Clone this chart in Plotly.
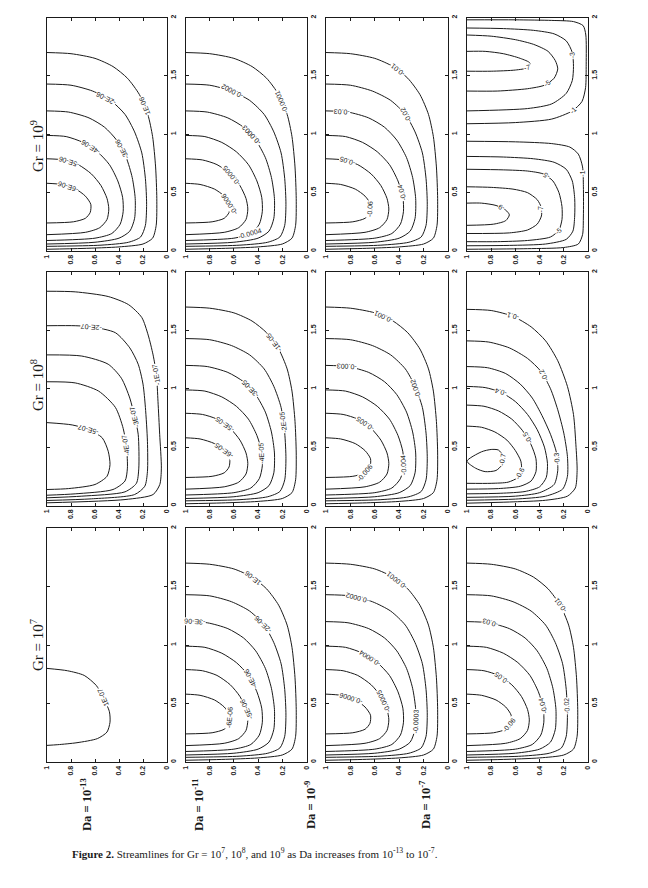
import math
import plotly.graph_objects as go

# ---------------- text ----------------
row_titles = ["Gr = 10<sup>9</sup>", "Gr = 10<sup>8</sup>", "Gr = 10<sup>7</sup>"]
col_titles = ["Da = 10<sup>-13</sup>", "Da = 10<sup>-11</sup>", "Da = 10<sup>-9</sup>", "Da = 10<sup>-7</sup>"]
caption = ("<b>Figure 2.</b> Streamlines for Gr = 10<sup>7</sup>, 10<sup>8</sup>, and 10<sup>9</sup> "
           "as Da increases from 10<sup>-13</sup> to 10<sup>-7</sup>.")

h_ticks = [1, 0.8, 0.6, 0.4, 0.2, 0]
h_ticktext = ["1", "0.8", "0.6", "0.4", "0.2", "0"]
v_ticks = [0, 0.5, 1, 1.5, 2]
v_ticktext = ["0", "0.5", "1", "1.5", "2"]

# ---------------- streamlines ----------------
# each streamline: list of (h, v) with h = horizontal axis value (1 at left), v = vertical axis value (0..2)
cell_common = [
    [(1, 1.70), (0.8, 1.69), (0.6, 1.65), (0.45, 1.58), (0.33, 1.48), (0.23, 1.34), (0.16, 1.17), (0.12, 0.98),
     (0.095, 0.72), (0.085, 0.45), (0.09, 0.22), (0.12, 0.11), (0.2, 0.06), (0.4, 0.035), (0.7, 0.022), (1, 0.015)],
    [(1, 1.43), (0.8, 1.42), (0.62, 1.37), (0.47, 1.29), (0.35, 1.17), (0.27, 1.02), (0.21, 0.84), (0.18, 0.62),
     (0.17, 0.40), (0.18, 0.22), (0.22, 0.12), (0.32, 0.075), (0.55, 0.05), (1, 0.04)],
    [(1, 1.20), (0.82, 1.19), (0.65, 1.14), (0.52, 1.06), (0.42, 0.95), (0.34, 0.80), (0.29, 0.63), (0.265, 0.45),
     (0.27, 0.28), (0.31, 0.17), (0.4, 0.11), (0.6, 0.075), (1, 0.06)],
    [(1, 0.99), (0.84, 0.98), (0.7, 0.93), (0.58, 0.85), (0.48, 0.74), (0.41, 0.60), (0.37, 0.46), (0.365, 0.34),
     (0.39, 0.23), (0.46, 0.15), (0.6, 0.11), (1, 0.09)],
    [(1, 0.79), (0.86, 0.78), (0.74, 0.74), (0.63, 0.66), (0.55, 0.56), (0.5, 0.45), (0.485, 0.36), (0.5, 0.27),
     (0.56, 0.2), (0.68, 0.16), (1, 0.14)],
    [(1, 0.58), (0.88, 0.57), (0.76, 0.53), (0.68, 0.47), (0.635, 0.40), (0.64, 0.33), (0.68, 0.28), (0.78, 0.25),
     (1, 0.24)],
]

cell_gr8_da13 = [
    [(1, 1.835), (0.765, 1.83), (0.49, 1.79), (0.32, 1.72), (0.21, 1.61), (0.157, 1.46), (0.116, 1.29),
     (0.088, 1.12), (0.075, 0.89), (0.061, 0.61), (0.047, 0.32), (0.06, 0.18), (0.116, 0.094), (0.35, 0.051),
     (1, 0.023)],
    [(1, 1.54), (0.765, 1.54), (0.63, 1.53), (0.43, 1.48), (0.31, 1.35), (0.24, 1.21), (0.20, 1.04), (0.18, 0.84),
     (0.163, 0.55), (0.163, 0.29), (0.185, 0.165), (0.27, 0.094), (0.63, 0.057), (1, 0.043)],
    [(1, 1.29), (0.71, 1.28), (0.49, 1.21), (0.38, 1.09), (0.31, 0.92), (0.27, 0.76), (0.24, 0.61), (0.235, 0.32),
     (0.255, 0.19), (0.35, 0.117), (0.71, 0.08), (1, 0.066)],
    [(1, 1.06), (0.765, 1.05), (0.57, 0.98), (0.43, 0.84), (0.365, 0.66), (0.337, 0.49), (0.33, 0.32),
     (0.35, 0.21), (0.45, 0.137), (0.765, 0.10), (1, 0.088)],
    [(1, 0.71), (0.79, 0.69), (0.655, 0.65), (0.54, 0.58), (0.49, 0.465), (0.475, 0.35), (0.50, 0.25),
     (0.60, 0.18), (0.82, 0.145), (1, 0.137)],
]

cell_gr7_da13 = [
    [(1, 0.80), (0.83, 0.78), (0.69, 0.74), (0.59, 0.655), (0.54, 0.57), (0.48, 0.43), (0.475, 0.34),
     (0.5, 0.256), (0.58, 0.2), (0.75, 0.165), (0.91, 0.148), (1, 0.142)],
]

cell_gr9_da7 = [
    # upper cell
    [(1, 1.98), (0.6, 1.98), (0.3, 1.975), (0.12, 1.965), (0.04, 1.93), (0.018, 1.85), (0.015, 1.6),
     (0.02, 1.4), (0.05, 1.28), (0.13, 1.2), (0.3, 1.13), (0.6, 1.10), (1, 1.09)],
    [(1, 1.91), (0.7, 1.905), (0.45, 1.89), (0.28, 1.86), (0.18, 1.80), (0.13, 1.70), (0.12, 1.58),
     (0.13, 1.46), (0.18, 1.35), (0.3, 1.26), (0.5, 1.22), (1, 1.20)],
    [(1, 1.85), (0.8, 1.84), (0.6, 1.81), (0.45, 1.77), (0.33, 1.71), (0.27, 1.63), (0.25, 1.56), (0.28, 1.48),
     (0.36, 1.42), (0.5, 1.39), (0.75, 1.37), (1, 1.37)],
    [(1, 1.71), (0.85, 1.71), (0.7, 1.69), (0.56, 1.65), (0.48, 1.61), (0.5, 1.57), (0.6, 1.55), (0.8, 1.54),
     (1, 1.54)],
    # lower cell
    [(1, 0.94), (0.6, 0.935), (0.3, 0.92), (0.15, 0.89), (0.08, 0.83), (0.045, 0.72), (0.038, 0.55),
     (0.038, 0.3), (0.045, 0.14), (0.08, 0.06), (0.2, 0.03), (0.5, 0.02), (1, 0.015)],
    [(1, 0.81), (0.7, 0.805), (0.45, 0.79), (0.28, 0.76), (0.18, 0.70), (0.13, 0.6), (0.11, 0.45), (0.11, 0.3),
     (0.125, 0.17), (0.18, 0.1), (0.35, 0.06), (0.65, 0.048), (1, 0.045)],
    [(1, 0.70), (0.7, 0.695), (0.5, 0.685), (0.37, 0.66), (0.29, 0.6), (0.24, 0.5), (0.215, 0.38),
     (0.215, 0.27), (0.24, 0.18), (0.31, 0.12), (0.5, 0.09), (0.75, 0.08), (1, 0.08)],
    [(1, 0.55), (0.8, 0.545), (0.62, 0.53), (0.5, 0.5), (0.42, 0.44), (0.385, 0.37), (0.385, 0.3), (0.42, 0.23),
     (0.5, 0.18), (0.65, 0.155), (1, 0.15)],
    [(1, 0.41), (0.88, 0.41), (0.76, 0.39), (0.68, 0.35), (0.65, 0.31), (0.68, 0.26), (0.78, 0.23), (1, 0.22)],
]

cell_gr8_da7 = [
    [(1, 1.68), (0.8, 1.67), (0.62, 1.62), (0.47, 1.53), (0.35, 1.41), (0.25, 1.24), (0.17, 1.02), (0.12, 0.78),
     (0.10, 0.52), (0.09, 0.3), (0.105, 0.15), (0.17, 0.08), (0.35, 0.045), (0.65, 0.03), (1, 0.02)],
    [(1, 1.41), (0.82, 1.40), (0.65, 1.35), (0.5, 1.26), (0.39, 1.15), (0.31, 1.0), (0.25, 0.82), (0.2, 0.62),
     (0.17, 0.42), (0.17, 0.25), (0.21, 0.14), (0.35, 0.08), (0.6, 0.055), (1, 0.045)],
    [(1, 1.19), (0.83, 1.18), (0.68, 1.13), (0.56, 1.04), (0.46, 0.92), (0.38, 0.77), (0.31, 0.61), (0.26, 0.45),
     (0.25, 0.3), (0.28, 0.18), (0.4, 0.11), (0.6, 0.08), (1, 0.07)],
    [(1, 1.02), (0.85, 1.01), (0.72, 0.97), (0.6, 0.89), (0.5, 0.78), (0.42, 0.65), (0.36, 0.5), (0.335, 0.36),
     (0.345, 0.24), (0.4, 0.16), (0.52, 0.12), (0.72, 0.105), (1, 0.10)],
    [(1, 0.86), (0.86, 0.85), (0.74, 0.81), (0.63, 0.74), (0.54, 0.64), (0.47, 0.52), (0.43, 0.4), (0.43, 0.29),
     (0.47, 0.21), (0.56, 0.165), (0.74, 0.145), (1, 0.14)],
    [(1, 0.68), (0.88, 0.67), (0.77, 0.63), (0.67, 0.56), (0.6, 0.47), (0.555, 0.38), (0.55, 0.3), (0.58, 0.24),
     (0.66, 0.2), (0.8, 0.19), (1, 0.19)],
    [(1, 0.38), (0.88, 0.46), (0.80, 0.48), (0.74, 0.475), (0.70, 0.42), (0.71, 0.35), (0.76, 0.30),
     (0.85, 0.29), (0.93, 0.32), (1, 0.38)],
]

# ---------------- contour labels (text, h, v) ----------------
labels_gr9_da13 = [("1E-06", 0.19, 1.24), ("-2E-06", 0.51, 1.31), ("-3E-06", 0.38, 0.87),
                   ("-4E-06", 0.63, 0.9), ("-5E-06", 0.81, 0.78), ("-6E-06", 0.82, 0.56)]
labels_gr9_da11 = [("-0.0001", 0.22, 1.27), ("-0.0002", 0.61, 1.38), ("-0.0003", 0.45, 1.0),
                   ("-0.0005", 0.6, 0.66), ("-0.0006", 0.63, 0.41), ("-0.0004", 0.47, 0.155)]
labels_gr9_da9 = [("-0.01", 0.41, 1.55), ("-0.03", 0.87, 1.19), ("-0.02", 0.35, 1.16),
                  ("-0.05", 0.82, 0.775), ("-0.04", 0.365, 0.5), ("-0.06", 0.625, 0.36)]
labels_gr9_da7 = [("-7", 0.51, 1.58), ("-5", 0.35, 1.45), ("-3", 0.13, 1.68), ("-1", 0.13, 1.21),
                  ("-9", 0.71, 0.375), ("-7", 0.39, 0.36), ("-5", 0.34, 0.65), ("-5", 0.25, 0.17),
                  ("-1", 0.05, 0.66)]
labels_gr8_da13 = [("-1E-07", 0.088, 1.12), ("-2E-07", 0.63, 1.53), ("-3E-07", 0.27, 0.76),
                   ("-4E-07", 0.34, 0.52), ("-5E-07", 0.655, 0.65)]
labels_gr8_da11 = [("-1E-05", 0.28, 1.39), ("-3E-05", 0.47, 1.0), ("-2E-05", 0.2, 0.71),
                   ("-5E-05", 0.68, 0.69), ("-4E-05", 0.365, 0.45), ("-6E-05", 0.68, 0.47)]
labels_gr8_da9 = [("-0.001", 0.53, 1.62), ("-0.003", 0.83, 1.18), ("-0.002", 0.26, 1.0),
                  ("-0.005", 0.68, 0.70), ("-0.004", 0.37, 0.35), ("-0.006", 0.68, 0.28)]
labels_gr8_da7 = [("-0.1", 0.62, 1.62), ("-0.2", 0.365, 1.11), ("-0.4", 0.72, 0.97), ("-0.5", 0.5, 0.58),
                  ("-0.6", 0.56, 0.27), ("-0.3", 0.26, 0.40), ("-0.7", 0.70, 0.39)]
labels_gr7_da13 = [("1E-07", 0.51, 0.56)]
labels_gr7_da11 = [("1E-06", 0.44, 1.58), ("-3E-06", 0.92, 1.2), ("-2E-06", 0.37, 1.17),
                   ("-4E-06", 0.46, 0.71), ("-5E-06", 0.485, 0.46), ("-6E-06", 0.635, 0.38)]
labels_gr7_da9 = [("-0.0001", 0.42, 1.56), ("-0.0002", 0.74, 1.405), ("-0.0004", 0.64, 0.89),
                  ("-0.0005", 0.53, 0.52), ("-0.0006", 0.80, 0.545), ("-0.0003", 0.265, 0.35)]
labels_gr7_da7 = [("-0.01", 0.23, 1.34), ("-0.03", 0.81, 1.185), ("-0.05", 0.71, 0.72),
                  ("-0.04", 0.365, 0.48), ("-0.02", 0.17, 0.48), ("-0.06", 0.64, 0.31)]

panels = [
    [(cell_common, labels_gr9_da13), (cell_common, labels_gr9_da11), (cell_common, labels_gr9_da9),
     (cell_gr9_da7, labels_gr9_da7)],
    [(cell_gr8_da13, labels_gr8_da13), (cell_common, labels_gr8_da11), (cell_common, labels_gr8_da9),
     (cell_gr8_da7, labels_gr8_da7)],
    [(cell_gr7_da13, labels_gr7_da13), (cell_common, labels_gr7_da11), (cell_common, labels_gr7_da9),
     (cell_common, labels_gr7_da7)],
]

# ---------------- layout (page pixel positions; the page body has an 8px margin) ----------------
OFF = 8
W, H = 632, 872
col_px = [(47, 167), (185.5, 306.5), (326, 448), (467, 588)]
row_px = [(17.5, 251), (272, 505.5), (528, 762)]
row_title_y = [146, 385, 645]
col_title_x = [86, 198, 310, 425]


def px_x(p):
    return (p - OFF) / W


def px_y(p):
    return 1 - (p - OFF) / H


INK = "#1a1a1a"
fig = go.Figure()
annotations = []


def snap(lines, h, v, pw, ph):
    """project a label onto the nearest streamline segment (in pixel space) and return its angle"""
    best = None
    px, py = (1 - h) * pw, (2 - v) * ph / 2
    for line in lines:
        for (h0, v0), (h1, v1) in zip(line[:-1], line[1:]):
            x0, y0 = (1 - h0) * pw, (2 - v0) * ph / 2
            x1, y1 = (1 - h1) * pw, (2 - v1) * ph / 2
            dx, dy = x1 - x0, y1 - y0
            L2 = dx * dx + dy * dy
            t = 0 if L2 == 0 else max(0, min(1, ((px - x0) * dx + (py - y0) * dy) / L2))
            qx, qy = x0 + t * dx, y0 + t * dy
            d = (qx - px) ** 2 + (qy - py) ** 2
            if best is None or d < best[0]:
                best = (d, qx, qy, math.degrees(math.atan2(dy, dx)))
    _, qx, qy, ang = best
    ang = ((ang + 180) % 180) - 180
    return 1 - qx / pw, 2 - 2 * qy / ph, ang


k = 0
for r in range(3):
    for c in range(4):
        k += 1
        lines, labels = panels[r][c]
        L, R = col_px[c]
        T, B = row_px[r]
        pw, ph = R - L, B - T
        xa, ya = f"x{k}", f"y{k}"
        for line in lines:
            fig.add_trace(go.Scatter(
                x=[p[0] for p in line], y=[p[1] for p in line], mode="lines",
                line=dict(color=INK, width=1, shape="spline", smoothing=0.7),
                xaxis=xa, yaxis=ya, hoverinfo="skip", showlegend=False))
        for text, h, v in labels:
            sh, sv, ang = snap(lines, h, v, pw, ph)
            annotations.append(dict(
                x=sh, y=sv, xref=xa, yref=ya, text=text, showarrow=False, textangle=ang,
                xanchor="center", yanchor="middle",
                font=dict(family="Liberation Sans", size=7, color=INK),
                bgcolor="white", borderpad=0))
        axis_common = dict(showline=True, linecolor=INK, linewidth=1, mirror="ticks", ticks="inside",
                           ticklen=3, tickcolor=INK, showgrid=False, zeroline=False, tickangle=-90,
                           tickfont=dict(family="Liberation Sans", size=7, color=INK, weight="bold"),
                           fixedrange=True, automargin=False)
        fig.update_layout(**{
            f"xaxis{k}": dict(domain=[px_x(L), px_x(R)], anchor=ya, range=[1, 0], tickvals=h_ticks,
                              ticktext=h_ticktext, **axis_common),
            f"yaxis{k}": dict(domain=[px_y(B), px_y(T)], anchor=xa, range=[0, 2], side="right",
                              tickvals=v_ticks, ticktext=v_ticktext, **axis_common),
        })

for r in range(3):
    annotations.append(dict(x=px_x(37), y=px_y(row_title_y[r]), xref="paper", yref="paper",
                            xanchor="center", yanchor="middle",
                            text=row_titles[r], showarrow=False, textangle=-90,
                            font=dict(family="Liberation Serif", size=15, color=INK)))
for c in range(4):
    annotations.append(dict(x=px_x(col_title_x[c]), y=px_y(805), xref="paper", yref="paper",
                            xanchor="center", yanchor="middle",
                            text="<b>" + col_titles[c] + "</b>", showarrow=False, textangle=-90,
                            font=dict(family="Liberation Serif", size=12.5, color=INK)))
annotations.append(dict(x=px_x(254.5), y=px_y(853), xref="paper", yref="paper", text=caption,
                        xanchor="center", yanchor="middle",
                        showarrow=False, font=dict(family="Liberation Serif", size=11, color=INK)))

fig.update_layout(width=W, height=H, margin=dict(l=0, r=0, t=0, b=0, autoexpand=False),
                  paper_bgcolor="white", plot_bgcolor="white", showlegend=False, annotations=annotations)

fig.write_html("out.html")
